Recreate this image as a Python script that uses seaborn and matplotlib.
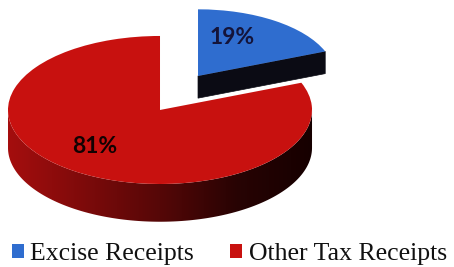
import numpy as np
import matplotlib
matplotlib.use("Agg")
import matplotlib.pyplot as plt
import seaborn as sns
from matplotlib.patches import Polygon

# ---- data ----
labels = ["Excise Receipts", "Other Tax Receipts"]
shares = [19, 81]

# ---- style ----
top_colors = ["#2f6dcf", "#c8110f"]
side_color_blue = "#0b0b14"
label_colors = ["#14143a", "#120202"]
centers = [(0.25, 0.46), (0.0, 0.0)]     # exploded position of each slice
radii = [0.9, 1.0]
depths = [0.30, 0.51]
label_offsets = [(0.25, 0.58), (-0.43, -0.49)]  # in radius units from slice centre

sns.set_theme(style="white")
plt.rcParams['font.family'] = ['Liberation Serif', 'DejaVu Serif']

fig = plt.figure(figsize=(4.54, 2.67), dpi=100)
ax = fig.add_axes([0, 0, 1, 1])

wedges, _ = ax.pie(shares, colors=top_colors, startangle=90, counterclock=False,
                   radius=1, wedgeprops=dict(linewidth=0))

front_intervals = [(-540, -360), (-180, 0), (180, 360)]


def side_polys(w, depth):
    cx, cy = w.center
    r = w.r
    t1, t2 = w.theta1, w.theta2
    polys = []
    for a, b in front_intervals:
        lo, hi = max(a, t1), min(b, t2)
        if hi > lo:
            th = np.radians(np.linspace(lo, hi, 200))
            top = np.column_stack([cx + r * np.cos(th), cy + r * np.sin(th)])
            bot = top - [0, depth]
            polys.append(np.vstack([top, bot[::-1]]))
    for t, sign in ((t1, 1), (t2, -1)):
        c = np.cos(np.radians(t))
        if sign * c > 1e-6:
            tip = np.array([cx + r * np.cos(np.radians(t)), cy + r * np.sin(np.radians(t))])
            ctr = np.array([cx, cy])
            polys.append(np.array([ctr, tip, tip - [0, depth], ctr - [0, depth]]))
    return polys


# gradient for the red wall (lighter left, near black right)
grad_x = np.linspace(0, 1, 256)
r_ch = np.interp(grad_x, [0, 0.25, 0.5, 0.75, 1.0], [165, 125, 85, 40, 22]) / 255
g_ch = np.interp(grad_x, [0, 1], [14, 0]) / 255
b_ch = np.interp(grad_x, [0, 1], [14, 0]) / 255
grad_img = np.dstack([r_ch, g_ch, b_ch]).repeat(2, axis=0)

order = [0, 1]  # blue (back) first, red (front) later
z = 1
for i in order:
    w = wedges[i]
    w.set_center(centers[i])
    w.set_radius(radii[i])
    for poly in side_polys(w, depths[i]):
        if i == 0:
            ax.add_patch(Polygon(poly, closed=True, facecolor=side_color_blue,
                                 edgecolor=side_color_blue, lw=0.5, zorder=z))
        else:
            clip = Polygon(poly, closed=True, facecolor="none", edgecolor="none",
                           transform=ax.transData)
            ax.add_patch(clip)
            cx, cy = w.center
            im = ax.imshow(grad_img, extent=[cx - w.r, cx + w.r,
                                             poly[:, 1].min(), poly[:, 1].max()],
                           aspect="auto", zorder=z, interpolation="bilinear")
            im.set_clip_path(clip)
    w.set_zorder(z + 1)
    z += 2

for i, w in enumerate(wedges):
    cx, cy = w.center
    ox, oy = label_offsets[i]
    ax.text(cx + ox * w.r, cy + oy * w.r, f"{shares[i]}%", ha="center", va="center",
            fontsize=16.5, fontweight="bold", family=["Lato", "DejaVu Sans"],
            color=label_colors[i], zorder=10)

ax.set_xlim(-1.0526, 1.934)
ax.set_ylim(-2.1216, 1.486)
ax.set_aspect("auto")
ax.axis("off")

fig.legend(wedges, labels, loc="center", bbox_to_anchor=(0.505, 0.049), ncol=2,
           frameon=False, fontsize=18.5, handlelength=0.48, handleheight=0.48,
           handletextpad=0.25, columnspacing=1.4, borderpad=0, labelcolor="#111111")

fig.savefig("out.png", dpi=100)
